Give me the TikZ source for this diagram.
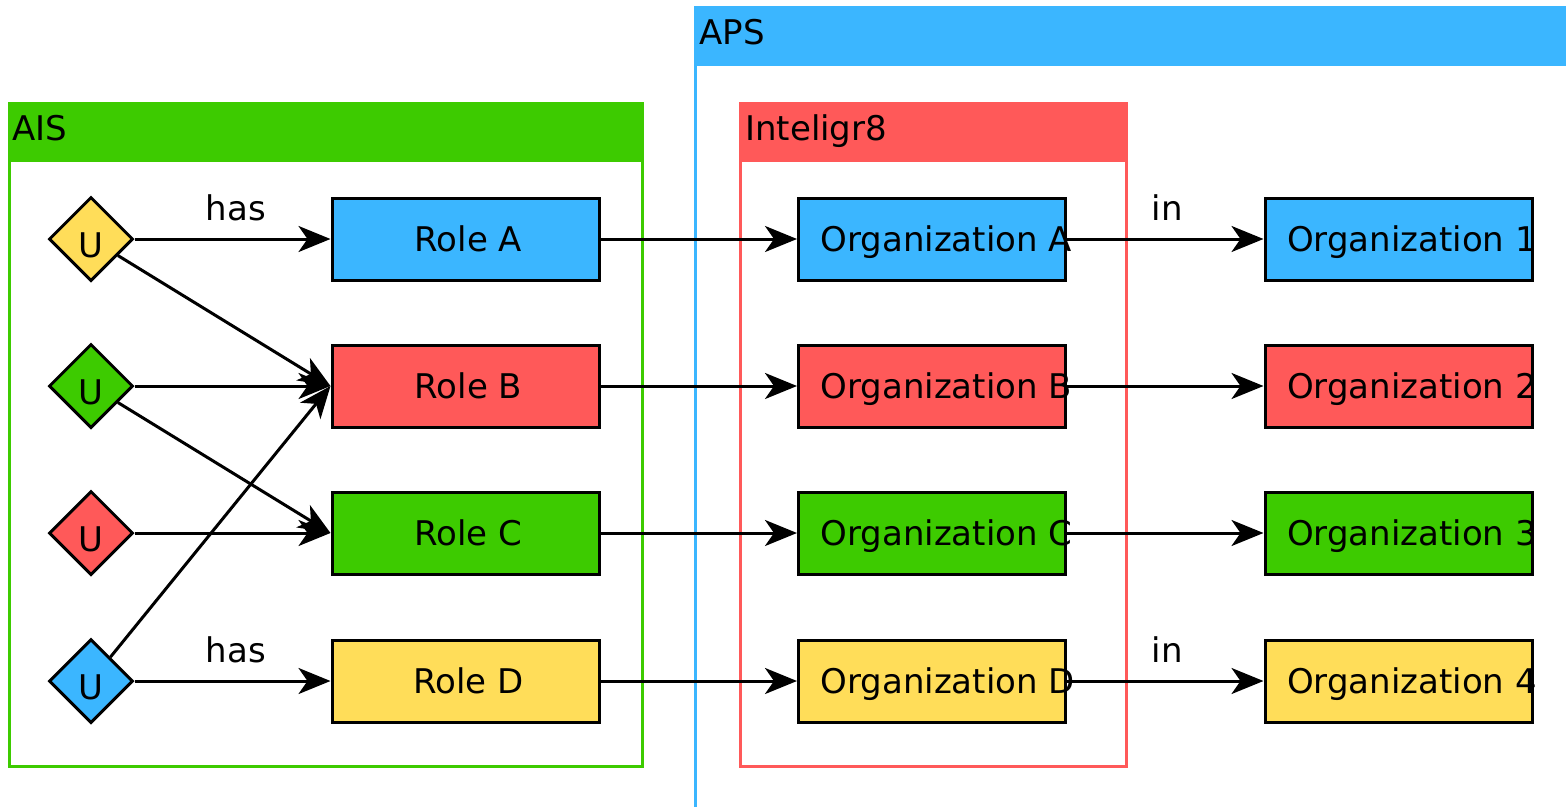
\documentclass[tikz,border=0pt]{standalone}
\usepackage{fontspec}
\setmainfont{DejaVu Sans}
\usetikzlibrary{arrows.meta,shapes.geometric}
\definecolor{cblue}{RGB}{59,182,255}
\definecolor{cred}{RGB}{255,89,89}
\definecolor{cgreen}{RGB}{61,203,0}
\definecolor{cyellow}{RGB}{255,221,89}
\begin{document}
\begin{tikzpicture}[x=1pt,y=-1pt,
  font=\fontsize{34}{40}\selectfont,
  user/.style={diamond, aspect=1, draw=black, line width=3pt, minimum width=84pt, minimum height=84pt, inner sep=0pt, text height=36.8pt, text depth=0pt},
  rolebox/.style={rectangle, draw=black, line width=3pt, minimum width=267pt, minimum height=82pt, inner sep=0pt, text height=24.8pt, text depth=0pt},
  orgbox/.style={rolebox, inner xsep=22pt},
  conn/.style={line width=3pt, -{Stealth[length=32pt,width=26pt,inset=9pt]}},
  group/.style={rectangle, line width=2.8pt, inner sep=0pt, anchor=north west},
  header/.style={rectangle, inner sep=0pt, anchor=north west, minimum height=60pt},
  title/.style={anchor=west, inner sep=0pt, text height=24.8pt, text depth=0pt},
  lbl/.style={anchor=base, inner sep=0pt, yshift=19pt}
]
\useasboundingbox (0,0) rectangle (1566,806);
\fill[white] (0,0) rectangle (1566,806);

% containers
\node[group, draw=cblue, minimum width=900pt, minimum height=900pt] (aps) at (694,6) {};
\node[header, fill=cblue, minimum width=900pt] (apshead) at (694,6) {};
\node[title] (apstitle) at (699.5,32.5) {APS};

\node[group, draw=cgreen, minimum width=633pt, minimum height=663pt] (ais) at (8,102) {};
\node[header, fill=cgreen, minimum width=633pt] (aishead) at (8,102) {};
\node[title] (aistitle) at (12.5,128.5) {AIS};

\node[group, draw=cred, minimum width=386pt, minimum height=663pt] (intel) at (739,102) {};
\node[header, fill=cred, minimum width=386pt] (intelhead) at (739,102) {};
\node[title] (inteltitle) at (745,128.5) {Inteligr8};

% users
\node[user, fill=cyellow] (u1) at (91,239) {U};
\node[user, fill=cgreen]  (u2) at (91,386) {U};
\node[user, fill=cred]    (u3) at (91,533) {U};
\node[user, fill=cblue]   (u4) at (91,681) {U};

% roles
\node[rolebox, fill=cblue]   (ra) at (465.5,239) {\hspace*{6pt}Role A};
\node[rolebox, fill=cred]    (rb) at (465.5,386) {\hspace*{6pt}Role B};
\node[rolebox, fill=cgreen]  (rc) at (465.5,533) {\hspace*{6pt}Role C};
\node[rolebox, fill=cyellow] (rd) at (465.5,681) {\hspace*{6pt}Role D};

% organizations (letters)
\node[orgbox, fill=cblue]   (oa) at (932,239) {\makebox[223pt][l]{Organization A}};
\node[orgbox, fill=cred]    (ob) at (932,386) {\makebox[223pt][l]{Organization B}};
\node[orgbox, fill=cgreen]  (oc) at (932,533) {\makebox[223pt][l]{Organization C}};
\node[orgbox, fill=cyellow] (od) at (932,681) {\makebox[223pt][l]{Organization D}};

% organizations (numbers)
\node[orgbox, fill=cblue]   (o1) at (1398.5,239) {\makebox[223pt][l]{Organization 1}};
\node[orgbox, fill=cred]    (o2) at (1398.5,386) {\makebox[223pt][l]{Organization 2}};
\node[orgbox, fill=cgreen]  (o3) at (1398.5,533) {\makebox[223pt][l]{Organization 3}};
\node[orgbox, fill=cyellow] (o4) at (1398.5,681) {\makebox[223pt][l]{Organization 4}};

% user -> role
\draw[conn] (u1) -- node[lbl, xshift=3.5pt] (has1) {has} (ra);
\draw[conn] (u1) -- (rb.west);
\draw[conn] (u2) -- (rb);
\draw[conn] (u2) -- (rc.west);
\draw[conn] (u3) -- (rc);
\draw[conn] (u4) -- (rb.west);
\draw[conn] (u4) -- node[lbl, xshift=3.5pt] (has2) {has} (rd);

% role -> org
\draw[conn] (ra) -- (oa);
\draw[conn] (rb) -- (ob);
\draw[conn] (rc) -- (oc);
\draw[conn] (rd) -- (od);

% org -> org
\draw[conn] (oa) -- node[lbl, xshift=2pt] (in1) {in} (o1);
\draw[conn] (ob) -- (o2);
\draw[conn] (oc) -- (o3);
\draw[conn] (od) -- node[lbl, xshift=2pt] (in2) {in} (o4);
\end{tikzpicture}
\end{document}
